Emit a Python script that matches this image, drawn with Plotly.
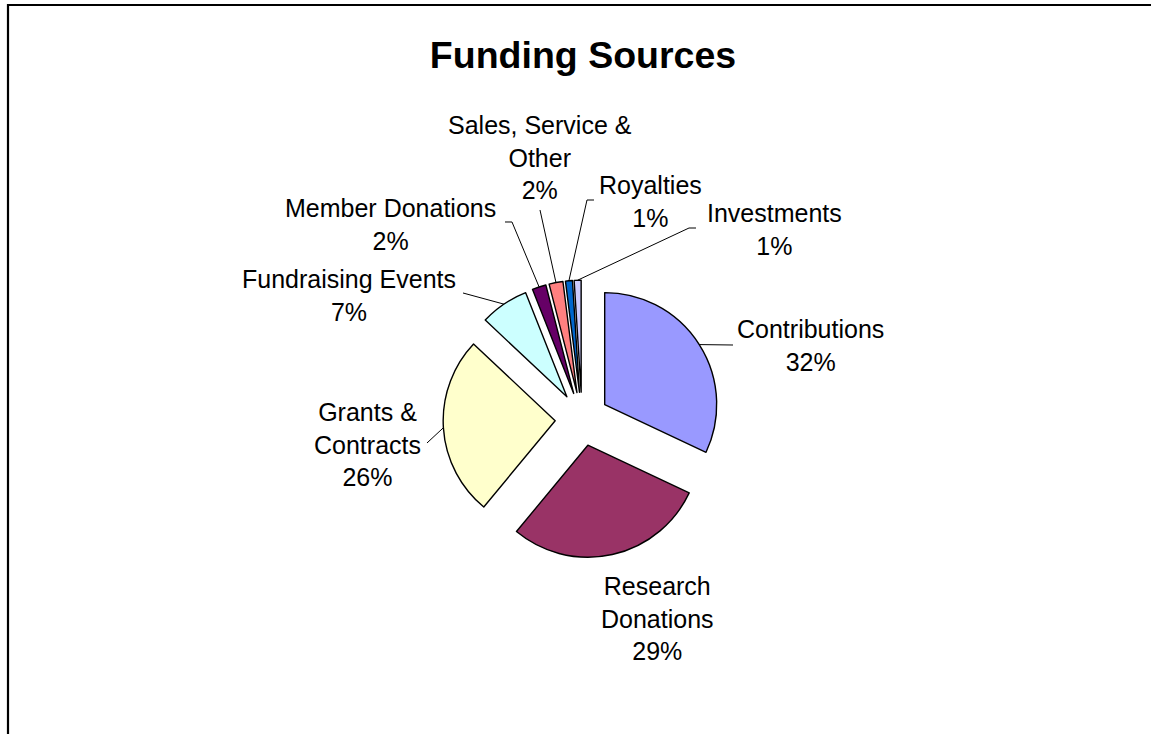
import math
import plotly.graph_objects as go

# ---- data -------------------------------------------------------------
categories = [
    "Contributions",
    "Research Donations",
    "Grants & Contracts",
    "Fundraising Events",
    "Member Donations",
    "Sales, Service & Other",
    "Royalties",
    "Investments",
]
shares_pct = [32, 29, 26, 7, 2, 2, 1, 1]
label_lines = [
    ["Contributions"],
    ["Research", "Donations"],
    ["Grants &", "Contracts"],
    ["Fundraising Events"],
    ["Member Donations"],
    ["Sales, Service &", "Other"],
    ["Royalties"],
    ["Investments"],
]
slice_colors = ["#9999FF", "#993366", "#FFFFCC", "#CCFFFF",
                "#660066", "#FF8080", "#0066CC", "#CCCCFF"]

# ---- layout constants (pixels) ------------------------------------------
W, H = 1151, 734
CX, CY = 582, 419          # pie centre
R = 112                    # slice radius
PULL = 0.24                # explode distance as fraction of radius
FONT = "Arial, Liberation Sans, sans-serif"

# label block centres
label_pos = {
    "Contributions": (810, 345),
    "Research Donations": (657, 618),
    "Grants & Contracts": (367, 444),
    "Fundraising Events": (349, 296),
    "Member Donations": (390, 224),
    "Sales, Service & Other": (540, 157),
    "Royalties": (650, 202),
    "Investments": (774, 229),
}
# leader line points near the text (first point, optional elbow)
leader_from = {
    "Contributions": [(733, 345)],
    "Grants & Contracts": [(427, 443)],
    "Fundraising Events": [(463, 293)],
    "Member Donations": [(505, 222), (512, 222)],
    "Sales, Service & Other": [(540, 210)],
    "Royalties": [(594, 200), (587, 200)],
    "Investments": [(696, 228), (689, 228)],
}


def px(x):
    return x / W


def py(y):
    return 1 - y / H


half = R * (1 + PULL)
fig = go.Figure(
    go.Pie(
        labels=categories,
        values=shares_pct,
        sort=False,
        direction="clockwise",
        rotation=0,
        pull=[PULL] * len(categories),
        marker=dict(colors=slice_colors, line=dict(color="black", width=1.4)),
        textinfo="none",
        hoverinfo="label+percent",
        showlegend=False,
        domain=dict(x=[px(CX - half), px(CX + half)],
                    y=[py(CY + half), py(CY - half)]),
    )
)

# slice outer mid-points, from the cumulative shares
total = sum(shares_pct)
edge_pt = {}
cum = 0
for name, v in zip(categories, shares_pct):
    mid = (cum + v / 2) / total * 2 * math.pi
    cum += v
    edge_pt[name] = (CX + half * math.sin(mid), CY - half * math.cos(mid))

annotations = []
shapes = []
for name, v, lines in zip(categories, shares_pct, label_lines):
    lx, ly = label_pos[name]
    annotations.append(dict(
        x=px(lx), y=py(ly), xref="paper", yref="paper",
        text="<br>".join(lines + [f"{v}%"]),
        showarrow=False, xanchor="center", yanchor="middle",
        font=dict(family=FONT, size=25, color="black"),
    ))
    if name in leader_from:
        pts = leader_from[name] + [edge_pt[name]]
        path = "M " + " L ".join(f"{px(x):.5f},{py(y):.5f}" for x, y in pts)
        shapes.append(dict(type="path", path=path, xref="paper", yref="paper",
                           line=dict(color="black", width=1)))

# chart-area frame (top and left edges visible)
shapes.append(dict(
    type="path", xref="paper", yref="paper",
    path=f"M {px(8):.5f},-0.05 L {px(8):.5f},{py(5):.5f} L 1.05,{py(5):.5f}",
    line=dict(color="black", width=2.2),
))

fig.update_layout(
    width=W, height=H,
    margin=dict(l=0, r=0, t=0, b=0),
    paper_bgcolor="white",
    plot_bgcolor="white",
    title=dict(text="<b>Funding Sources</b>", x=px(583), y=py(55),
               xanchor="center", yanchor="middle",
               font=dict(family=FONT, size=37.5, color="black")),
    annotations=annotations,
    shapes=shapes,
)

fig.write_html("out.html")
